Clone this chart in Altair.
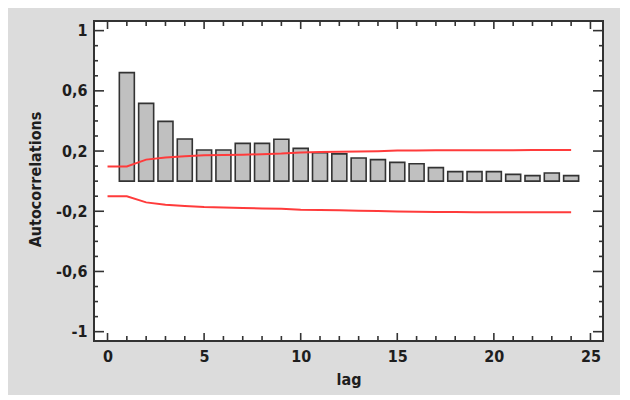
import altair as alt
import pandas as pd

# ---- data ----
lags = list(range(1, 25))
acf = [0.721, 0.517, 0.397, 0.280, 0.207, 0.207, 0.251, 0.251, 0.278, 0.218,
       0.189, 0.181, 0.154, 0.143, 0.125, 0.116, 0.090, 0.063, 0.063, 0.063,
       0.045, 0.037, 0.054, 0.037]

limit_lags = list(range(0, 25))
upper = [0.098, 0.098, 0.143, 0.157, 0.165, 0.172, 0.174, 0.176, 0.179, 0.183,
         0.190, 0.193, 0.195, 0.197, 0.199, 0.203, 0.204, 0.205, 0.205, 0.206,
         0.206, 0.206, 0.207, 0.207, 0.207]
lower = [-0.101, -0.101, -0.141, -0.156, -0.165, -0.172, -0.175, -0.178, -0.181, -0.184,
         -0.190, -0.192, -0.194, -0.196, -0.198, -0.202, -0.204, -0.205, -0.205, -0.206,
         -0.206, -0.206, -0.207, -0.207, -0.207]

y_major = [-1, -0.6, -0.2, 0.2, 0.6, 1]
y_minor = [-0.9, -0.8, -0.7, -0.5, -0.4, -0.3, -0.1, 0, 0.1, 0.3, 0.4, 0.5, 0.7, 0.8, 0.9]
x_major = [0, 5, 10, 15, 20, 25]
x_minor = [1, 2, 3, 4, 6, 7, 8, 9, 11, 12, 13, 14, 16, 17, 18, 19, 21, 22, 23, 24]

W, H = 509, 320
FONT = "DejaVu Sans Condensed, Liberation Sans Narrow, sans-serif"
XS = alt.Scale(domain=[-0.7, 25.65], nice=False, zero=False, padding=0)
YS = alt.Scale(domain=[-1.062, 1.064], nice=False, zero=False, padding=0)
TICK = "#333333"
TXT = "#1e1e1e"

XA = alt.Axis(
    values=x_major, tickSize=0, domain=False, grid=False, labelPadding=7,
    labelFont=FONT, labelFontSize=16, labelFontWeight="bold", labelColor=TXT,
    title="lag", titleFont=FONT, titleFontSize=16, titleFontWeight="bold", titleColor=TXT,
    titleY=43, titleBaseline="alphabetic")
YA = alt.Axis(
    values=y_major, tickSize=0, domain=False, grid=False, labelPadding=7,
    labelFont=FONT, labelFontSize=16, labelFontWeight="bold", labelColor=TXT,
    labelExpr="(datum.value < 0 ? '-' : '') + (abs(datum.value) == 1 ? '1' : replace(format(abs(datum.value), '.1f'), '.', ','))",
    title="Autocorrelations", titleFont=FONT, titleFontSize=16, titleFontWeight="bold",
    titleColor=TXT, titleX=-59, titleY=158, titleAngle=-90, titleBaseline="middle")

bars_df = pd.DataFrame({"lag": lags, "acf": acf})
lim_df = pd.DataFrame({"lag": limit_lags, "upper": upper, "lower": lower})

bars = alt.Chart(bars_df).mark_bar(size=15, fill="#c0c0c0", stroke="#333333", strokeWidth=1.6).encode(
    x=alt.X("lag:Q", scale=XS, axis=XA),
    y=alt.Y("acf:Q", scale=YS, axis=YA),
    y2=alt.datum(0),
)

up_line = alt.Chart(lim_df).mark_line(color="#ff3b3b", strokeWidth=2).encode(
    x=alt.X("lag:Q", scale=XS, axis=XA), y=alt.Y("upper:Q", scale=YS, axis=YA))
lo_line = alt.Chart(lim_df).mark_line(color="#ff3b3b", strokeWidth=2).encode(
    x=alt.X("lag:Q", scale=XS, axis=XA), y=alt.Y("lower:Q", scale=YS, axis=YA))


def yticks(vals, length):
    df = pd.DataFrame({"v": vals})
    left = alt.Chart(df).mark_rule(color=TICK, strokeWidth=1.6).encode(
        y=alt.Y("v:Q", scale=YS, axis=YA), x=alt.value(0), x2=alt.value(length))
    right = alt.Chart(df).mark_rule(color=TICK, strokeWidth=1.6).encode(
        y=alt.Y("v:Q", scale=YS, axis=YA), x=alt.value(W), x2=alt.value(W - length))
    return [left, right]


def xticks(vals, length):
    df = pd.DataFrame({"v": vals})
    top = alt.Chart(df).mark_rule(color=TICK, strokeWidth=1.6).encode(
        x=alt.X("v:Q", scale=XS, axis=XA), y=alt.value(0), y2=alt.value(length))
    bottom = alt.Chart(df).mark_rule(color=TICK, strokeWidth=1.6).encode(
        x=alt.X("v:Q", scale=XS, axis=XA), y=alt.value(H), y2=alt.value(H - length))
    return [top, bottom]


layers = [bars, up_line, lo_line] + yticks(y_major, 10) + yticks(y_minor, 4) \
    + xticks(x_major, 8) + xticks(x_minor, 5)

chart = alt.layer(*layers).properties(
    width=W, height=H,
    background="#dcdcdc",
    padding={"left": 86, "top": 13, "right": 17, "bottom": 54},
    autosize=alt.AutoSizeParams(type="none"),
).configure_view(fill="white", stroke="#333333", strokeWidth=2)

chart.save("out.html", embed_options={"renderer": "svg", "actions": False})
